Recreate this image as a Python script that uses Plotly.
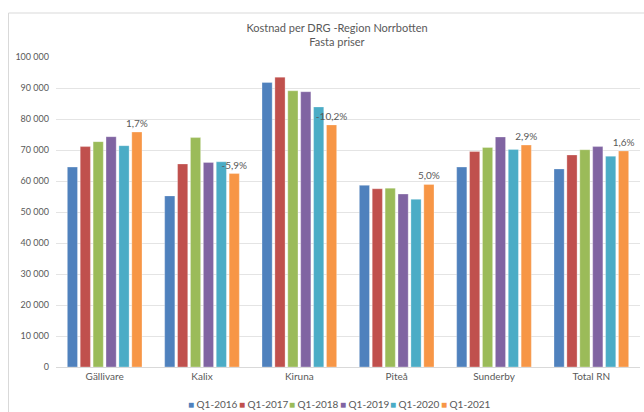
import plotly.graph_objects as go

categories = ["Gällivare", "Kalix", "Kiruna", "Piteå", "Sunderby", "Total RN"]
series_names = ["Q1-2016", "Q1-2017", "Q1-2018", "Q1-2019", "Q1-2020", "Q1-2021"]
q1_2016 = [64500, 55200, 91800, 58600, 64500, 63900]
q1_2017 = [71100, 65500, 93500, 57500, 69500, 68400]
q1_2018 = [72700, 74000, 89100, 57700, 70800, 70100]
q1_2019 = [74300, 66000, 88800, 55800, 74200, 71100]
q1_2020 = [71400, 66200, 83900, 54100, 70200, 68000]
q1_2021 = [75800, 62400, 78100, 58900, 71600, 69700]
change_labels = ["1,7%", "-5,9%", "-10,2%", "5,0%", "2,9%", "1,6%"]

series = [q1_2016, q1_2017, q1_2018, q1_2019, q1_2020, q1_2021]
colors = ["#4F81BD", "#C0504D", "#9BBB59", "#8064A2", "#4BACC6", "#F79646"]
grey = "#595959"
W, H = 644, 412
L, R, T, B = 56, 4, 57, 45
pw, ph = W - L - R, H - T - B


def px(x):  # pixel -> paper x
    return (x - L) / pw


def py(y):  # pixel -> paper y
    return (H - B - y) / ph


fig = go.Figure()
for i, (name, vals) in enumerate(zip(series_names, series)):
    last = i == len(series) - 1
    fig.add_trace(go.Bar(
        x=categories, y=vals, name=name,
        marker=dict(color=colors[i], line=dict(color="rgba(255,255,255,0.5)", width=0.6)),
        text=change_labels if last else None,
        textposition="outside" if last else "none",
        constraintext="none", cliponaxis=False,
        textfont=dict(size=10, color=grey),
        showlegend=False,
    ))

# legend drawn as a row of text items under the axis
leg_x0, leg_step = 186, 50.6
for i, name in enumerate(series_names):
    fig.add_annotation(
        x=px(leg_x0 + i * leg_step), y=py(404), xref="paper", yref="paper",
        xanchor="left", yanchor="middle", showarrow=False,
        text=f'<span style="color:{colors[i]}">■</span> {name}',
        font=dict(size=10, color=grey),
    )

# chart area border (cut by the screenshot on the right and bottom)
fig.add_shape(type="line", xref="paper", yref="paper",
              x0=px(8.5), x1=px(8.5), y0=py(H + 5), y1=py(13),
              line=dict(color="#D9D9D9", width=1))
fig.add_shape(type="line", xref="paper", yref="paper",
              x0=px(8.5), x1=px(W + 5), y0=py(13), y1=py(13),
              line=dict(color="#D9D9D9", width=1))

fig.update_layout(
    width=W, height=H,
    margin=dict(l=L, r=R, t=T, b=B, autoexpand=False),
    paper_bgcolor="white", plot_bgcolor="white",
    font=dict(family="Lato, Open Sans, sans-serif", color=grey, size=10),
    separators=", ",
    title=dict(text="Kostnad per DRG -Region Norrbotten<br>Fasta priser",
               x=337 / W, xref="container", xanchor="center",
               y=1 - 32 / H, yanchor="top", yref="container",
               font=dict(size=11, color=grey)),
    barmode="group", bargap=0.205, bargroupgap=0.21,
)
fig.update_xaxes(showline=True, linecolor="#D9D9D9", linewidth=1, automargin=False,
                 tickfont=dict(size=10, color=grey), ticks="")
fig.update_yaxes(range=[0, 100000], dtick=10000, tickformat=",.0f", automargin=False,
                 showgrid=True, gridcolor="#E4E4E4", gridwidth=1,
                 zeroline=False, ticklabelstandoff=6,
                 tickfont=dict(size=9, color=grey))

# drop the browser's default 8px body margin so the figure sits at the page corner
fig.write_html("out.html", config={"displayModeBar": False},
               post_script="document.body.style.margin='0';")
